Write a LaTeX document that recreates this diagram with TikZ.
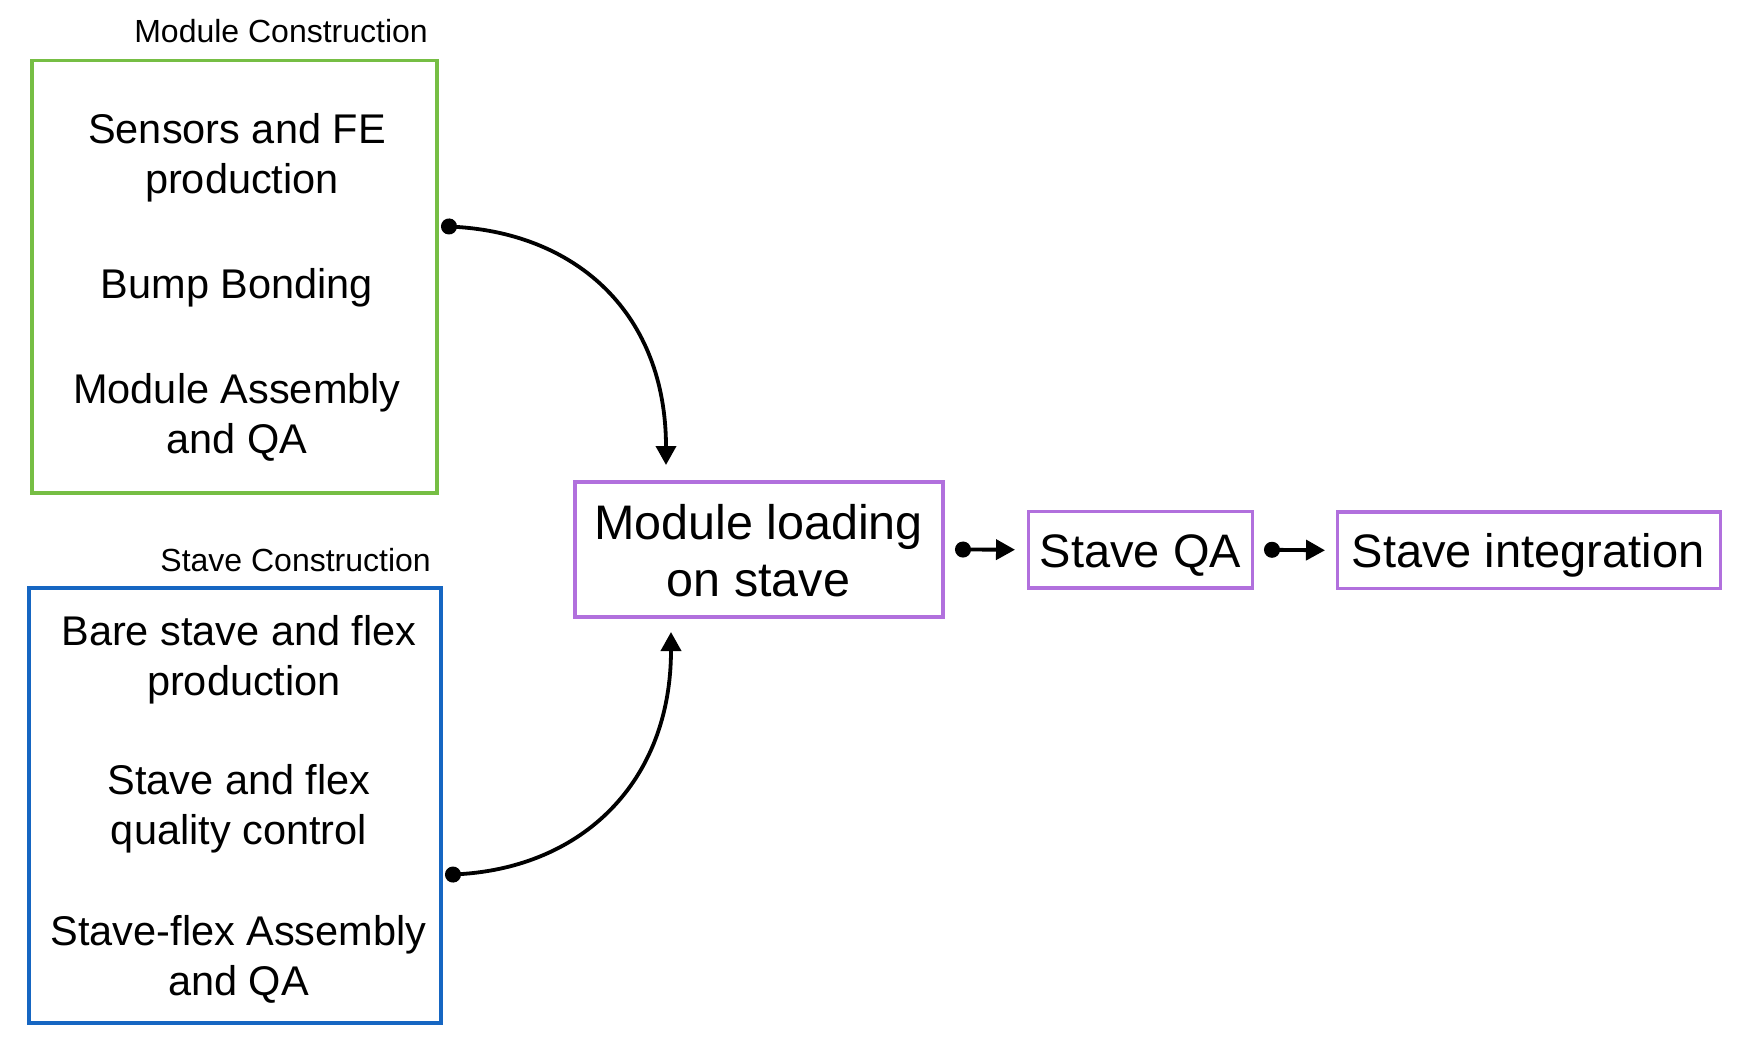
\documentclass[tikz,border=0pt]{standalone}
\usepackage{fontspec}
\setmainfont{Liberation Sans}
\usetikzlibrary{arrows.meta}
\definecolor{mgreen}{RGB}{118,190,68}
\definecolor{mblue}{RGB}{22,102,194}
\definecolor{mpurple}{RGB}{177,112,221}
\begin{document}
\begin{tikzpicture}[x=1pt,y=-1pt,
  frame/.style={draw, line width=3.5pt, inner sep=0pt, outer sep=0pt},
  txt/.style={inner sep=0pt, align=center, anchor=base},
  big/.style={font=\fontsize{41.5}{49.5}\selectfont},
  huge/.style={font=\fontsize{48.5}{57}\selectfont},
  large/.style={font=\fontsize{47}{56}\selectfont},
  lbl/.style={inner sep=0pt, anchor=base east, font=\fontsize{32}{38}\selectfont},
  conn/.style={line width=3.8pt, {Circle[length=16pt]}-{Triangle[length=19pt,width=20pt]}}]
\useasboundingbox (0,0) rectangle (1740,1058);

% frames
\node[frame, draw=mgreen, minimum width=405pt, minimum height=432.5pt] (mc) at (234.5,276.75) {};
\node[frame, draw=mblue, minimum width=412pt, minimum height=435pt] (sc) at (235,805.5) {};
\node[frame, draw=mpurple, minimum width=368pt, minimum height=135pt] (ml) at (759,549.5) {};
\node[frame, draw=mpurple, minimum width=224pt, minimum height=76.7pt] (sq) at (1140.7,549.7) {};
\node[frame, draw=mpurple, minimum width=383pt, minimum height=76.7pt] (si) at (1528.8,550.3) {};

% group labels
\node[lbl] (lmc) at (428,42) {Module Construction};
\node[lbl] (lsc) at (431,571.5) {Stave Construction};

% module construction texts (base = baseline of last line)
\node[txt, big] (m1) at (237,193) {Sensors and FE\\\hspace*{10pt}production};
\node[txt, big] (m2) at (237,298) {Bump Bonding};
\node[txt, big] (m3) at (237,453) {Module Assembly\\and QA};

% stave construction texts
\node[txt, big] (s1) at (239,695) {Bare stave and flex\\\hspace*{10pt}production};
\node[txt, big] (s2) at (239,844) {Stave and flex\\quality control};
\node[txt, big] (s3) at (238.5,995) {Stave-flex Assembly\\and QA};

% process texts
\node[txt, huge] (t1) at (758.5,596) {Module loading\\on stave};
\node[txt, large] (t2) at (1140.5,567) {Stave QA};
\node[txt, large] (t3) at (1528,567) {Stave integration};

% connectors
\draw[conn] ([shift={(4,-50.75)}]mc.east) .. controls +(137.5,8) and +(0,-150) .. ([shift={(-93,-17)}]ml.north);
\draw[conn] ([shift={(4,69.5)}]sc.east) .. controls +(137.5,-8) and +(0,150) .. ([shift={(-88,15)}]ml.south);
\draw[conn] ([xshift=12pt]ml.east) -- ([xshift=-13.7pt]sq.west);
\draw[conn] ([xshift=11.3pt]sq.east) -- ([xshift=-12.3pt]si.west);
\end{tikzpicture}
\end{document}
